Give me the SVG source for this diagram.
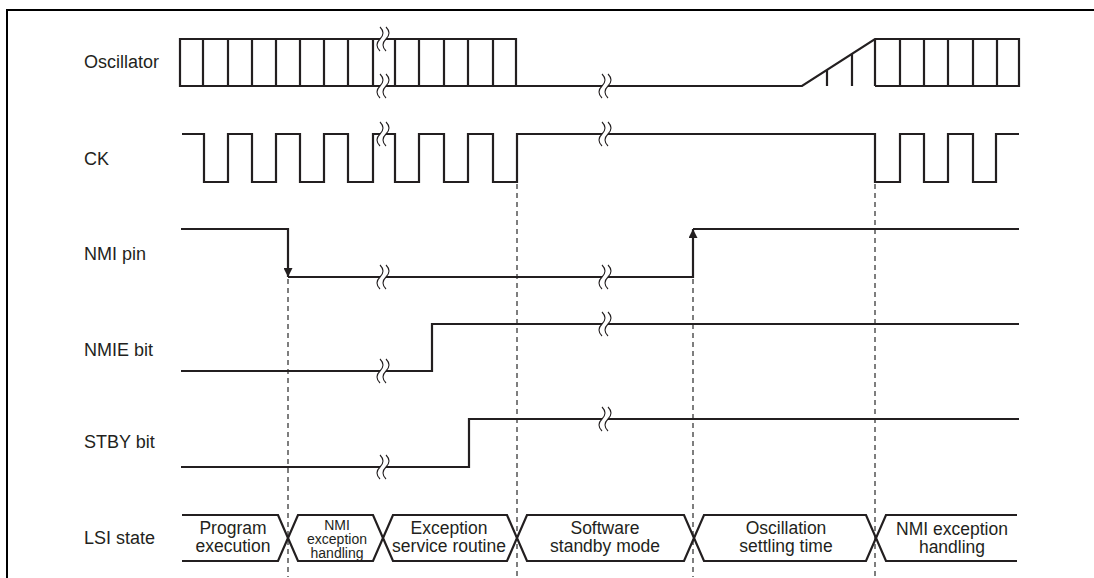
<svg xmlns="http://www.w3.org/2000/svg" width="1094" height="578" viewBox="0 0 1094 578">
<defs>
<style>
.sig{fill:none;stroke:#231f20;stroke-width:2.2;stroke-linejoin:miter;stroke-linecap:butt}
.dash{fill:none;stroke:#3a3a3a;stroke-width:1.3;stroke-dasharray:5 4}
.lbl{font-family:"Liberation Sans",Arial,Helvetica,sans-serif;font-size:18px;fill:#231f20}
.st{font-family:"Liberation Sans",Arial,Helvetica,sans-serif;font-size:17.5px;fill:#231f20;text-anchor:middle}
.sm{font-family:"Liberation Sans",Arial,Helvetica,sans-serif;font-size:14px;fill:#231f20;text-anchor:middle}
.brkw{fill:#fff;stroke:none}
.brkc{fill:none;stroke:#231f20;stroke-width:1.1}
</style>
<g id="brk">
<path class="brkw" d="M-3,-12 Q3,-6 -3,0 Q-9,6 -3,12 L3,12 Q-3,6 3,0 Q9,-6 3,-12 Z"/>
<path class="brkc" d="M-3,-12 Q3,-6 -3,0 Q-9,6 -3,12"/>
<path class="brkc" d="M3,-12 Q9,-6 3,0 Q-3,6 3,12"/>
</g>
<marker id="ah" viewBox="0 0 10 10" refX="10" refY="5" markerWidth="9" markerHeight="9" markerUnits="userSpaceOnUse" orient="auto">
<path d="M0,0 L10,5 L0,10 Z" fill="#231f20"/>
</marker>
</defs>

<rect x="0" y="0" width="1094" height="578" fill="#fff"/>
<path d="M7,600 V10 H1110" fill="none" stroke="#000" stroke-width="2"/>

<g id="connectors">
<path class="dash" d="M288,279 V577"/>
<path class="dash" d="M517,184 V577"/>
<path class="dash" d="M693,279 V577"/>
<path class="dash" d="M875,184 V577"/>
</g>

<g id="labels">
<text class="lbl" x="84" y="68">Oscillator</text>
<text class="lbl" x="84" y="165">CK</text>
<text class="lbl" x="84" y="260">NMI pin</text>
<text class="lbl" x="84" y="356">NMIE bit</text>
<text class="lbl" x="84" y="448">STBY bit</text>
<text class="lbl" x="84" y="544">LSI state</text>
</g>

<g id="oscillator">
<path class="sig" d="M180,39 H516 M180,86 H802 L875,39 H1019 V86 H875"/>
<path class="sig" d="M180,38 V87 M203,39 V86 M228,39 V86 M252,39 V86 M276,39 V86 M300,39 V86 M324,39 V86 M348,39 V86 M373,39 V86 M395,39 V86 M419,39 V86 M444,39 V86 M468,39 V86 M493,39 V86 M516,38 V86"/>
<path class="sig" d="M827,86 V69.9 M852,86 V53.8 M875,39 V86 M900,39 V86 M924,39 V86 M948,39 V86 M973,39 V86 M997,39 V86"/>
<use href="#brk" x="383" y="39"/>
<use href="#brk" x="383" y="86"/>
<use href="#brk" x="605" y="86"/>
</g>

<g id="ck">
<path class="sig" d="M182,134 H204 V182 H228 V134 H252 V182 H276 V134 H300 V182 H324 V134 H348 V182 H373 V134 H395 V182 H419 V134 H444 V182 H468 V134 H493 V182 H517 V134 H875 V182 H900 V134 H924 V182 H948 V134 H973 V182 H996 V134 H1019"/>
<use href="#brk" x="383" y="134"/>
<use href="#brk" x="605" y="134"/>
</g>

<g id="nmi-pin">
<path class="sig" d="M181,229 H288 M288,277 H693 M693,229 H1019"/>
<path class="sig" d="M288,228 V277" marker-end="url(#ah)"/>
<path class="sig" d="M693,278 V229" marker-end="url(#ah)"/>
<use href="#brk" x="383" y="277"/>
<use href="#brk" x="605" y="277"/>
</g>

<g id="nmie-bit">
<path class="sig" d="M181,371 H432 V324 H1019"/>
<use href="#brk" x="383" y="371"/>
<use href="#brk" x="605" y="324"/>
</g>

<g id="stby-bit">
<path class="sig" d="M181,467 H469 V419 H1019"/>
<use href="#brk" x="383" y="467"/>
<use href="#brk" x="605" y="419"/>
</g>

<g id="lsi-program">
<path class="sig" d="M182,515 H278 L288,538 L278,561 H182"/>
<text class="st" x="233" y="534">Program</text>
<text class="st" x="233" y="552">execution</text>
</g>
<g id="lsi-nmi">
<path class="sig" d="M298,515 H373 L383,538 L373,561 H298 L288,538 Z"/>
<text class="sm" x="337" y="530">NMI</text>
<text class="sm" x="337" y="544">exception</text>
<text class="sm" x="337" y="558">handling</text>
</g>
<g id="lsi-exception">
<path class="sig" d="M393,515 H507 L517,538 L507,561 H393 L383,538 Z"/>
<text class="st" x="449" y="534">Exception</text>
<text class="st" x="449" y="552">service routine</text>
</g>
<g id="lsi-standby">
<path class="sig" d="M527,515 H684 L694,538 L684,561 H527 L517,538 Z"/>
<text class="st" x="605" y="534">Software</text>
<text class="st" x="605" y="552">standby mode</text>
</g>
<g id="lsi-settling">
<path class="sig" d="M704,515 H866 L876,538 L866,561 H704 L694,538 Z"/>
<text class="st" x="786" y="534">Oscillation</text>
<text class="st" x="786" y="552">settling time</text>
</g>
<g id="lsi-nmi2">
<path class="sig" d="M1017,515 H886 L876,538 L886,561 H1017"/>
<text class="st" x="952" y="535">NMI exception</text>
<text class="st" x="952" y="553">handling</text>
</g>
</svg>
